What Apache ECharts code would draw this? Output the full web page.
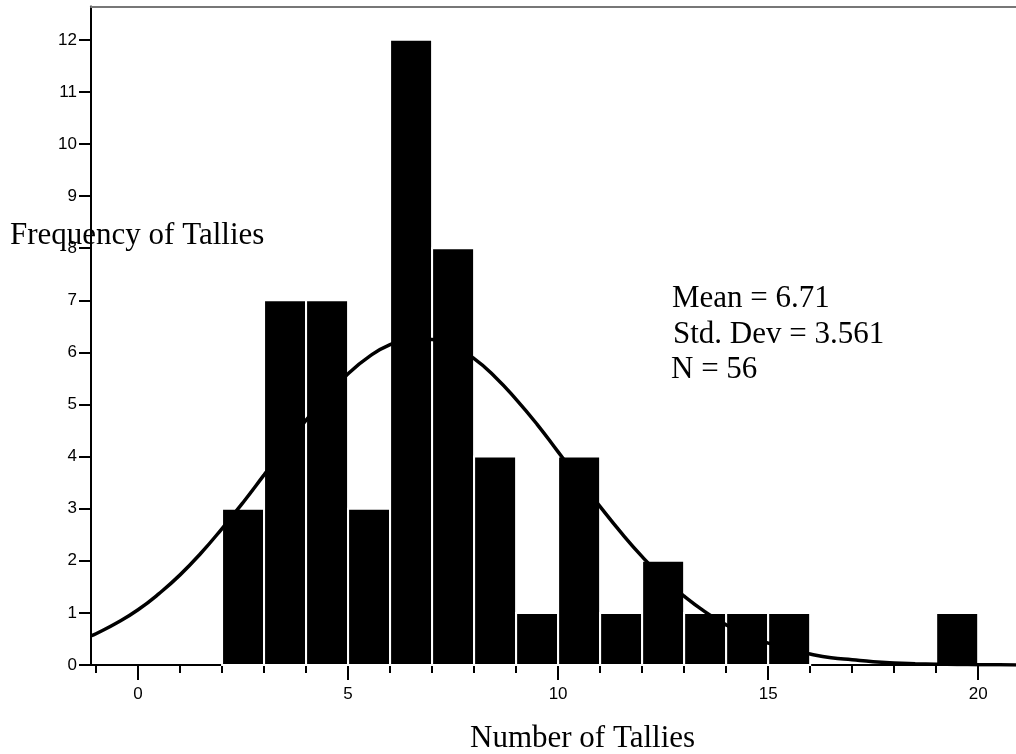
<!DOCTYPE html>
<html>
<head>
<meta charset="utf-8">
<script src="https://cdn.jsdelivr.net/npm/echarts@6/dist/echarts.min.js"></script>
<style>
  html, body { margin: 0; padding: 0; background: #fff; }
  #chart { width: 1016px; height: 754px; }
</style>
</head>
<body>
<div id="chart"></div>
<script>
// histogram bins: [from, to, count]
const binStart = [2, 3, 4, 5, 6, 7, 8, 9, 10, 11, 12, 13, 14, 15, 19]
const binEnd = [3, 4, 5, 6, 7, 8, 9, 10, 11, 12, 13, 14, 15, 16, 20]
const binCount = [3, 7, 7, 3, 12, 8, 4, 1, 4, 1, 2, 1, 1, 1, 1]

// normal curve
const curveX = [-1.12, -1, -0.5, 0, 0.5, 1, 1.5, 2, 2.5, 3, 3.5, 4, 4.5, 5, 5.5, 6, 6.5, 7, 7.5, 8, 8.5, 9, 9.5,
  10, 10.5, 11, 11.5, 12, 12.5, 13, 13.5, 14, 14.5, 15, 15.5, 16, 16.5, 17, 17.5, 18, 18.5, 19, 19.5, 20, 20.5, 20.9]
const curveY = [0.56, 0.6, 0.81, 1.06, 1.37, 1.73, 2.15, 2.62, 3.12, 3.65, 4.18, 4.7, 5.17, 5.59, 5.92, 6.15, 6.26, 6.25, 6.12, 5.88, 5.53, 5.1, 4.62,
  4.09, 3.56, 3.04, 2.54, 2.08, 1.67, 1.32, 1.02, 0.77, 0.57, 0.42, 0.3, 0.21, 0.14, 0.1, 0.063, 0.04, 0.026, 0.016, 0.01, 0.006, 0.004, 0.002]

const xMinorTicks = [-1, 0, 1, 2, 3, 4, 5, 6, 7, 8, 9, 10, 11, 12, 13, 14, 15, 16, 17, 18, 19, 20]
const xMajorTicks = [0, 5, 10, 15, 20]
const yTicks = [0, 1, 2, 3, 4, 5, 6, 7, 8, 9, 10, 11, 12]

const statLines = ['Mean = 6.71', 'Std. Dev = 3.561', 'N = 56']

const xMin = -1.12
const xMax = 20.9
const yMax = 12.64

const serif = '31px "Liberation Serif", "Times New Roman", serif'
const sans = '"Liberation Sans", Arial, sans-serif'

const chart = echarts.init(document.getElementById('chart'))

const bars = binStart.map((s, i) => [s, binEnd[i], binCount[i]])
const curve = curveX.map((x, i) => [x, curveY[i]])

chart.setOption({
  animation: false,
  backgroundColor: '#fff',
  grid: { left: 91, right: 0, top: 6.5, bottom: 89 },
  xAxis: [
    { // minor ticks + axis line
      type: 'value', min: xMin, max: xMax, position: 'bottom',
      axisLine: { show: true, onZero: false, lineStyle: { color: '#000', width: 2 } },
      axisTick: { show: true, length: 8, lineStyle: { color: '#000', width: 2 }, customValues: xMinorTicks },
      axisLabel: { show: false },
      splitLine: { show: false }
    },
    { // major ticks + labels
      type: 'value', min: xMin, max: xMax, position: 'bottom',
      axisLine: { show: false, onZero: false },
      axisTick: { show: true, length: 15, lineStyle: { color: '#000', width: 2 }, customValues: xMajorTicks },
      axisLabel: { show: true, customValues: xMajorTicks, margin: 21, color: '#000', fontSize: 17, fontFamily: sans },
      splitLine: { show: false }
    },
    { // top frame line
      type: 'value', min: xMin, max: xMax, position: 'top',
      axisLine: { show: true, onZero: false, lineStyle: { color: '#777', width: 2 } },
      axisTick: { show: false }, axisLabel: { show: false }, splitLine: { show: false }
    }
  ],
  yAxis: {
    type: 'value', min: 0, max: yMax,
    axisLine: { show: true, onZero: false, lineStyle: { color: '#000', width: 2 } },
    axisTick: { show: true, length: 12, lineStyle: { color: '#000', width: 2 }, customValues: yTicks },
    axisLabel: { customValues: yTicks, margin: 14, color: '#000', fontSize: 17, fontFamily: sans },
    splitLine: { show: false }
  },
  series: [
    {
      type: 'custom',
      xAxisIndex: 0,
      data: bars,
      encode: { x: [0, 1], y: 2 },
      renderItem: function (params, api) {
        const p0 = api.coord([api.value(0), api.value(2)])
        const p1 = api.coord([api.value(1), 0])
        return {
          type: 'rect',
          shape: { x: p0[0], y: p0[1], width: p1[0] - p0[0], height: p1[1] - p0[1] },
          style: { fill: '#000', stroke: '#fff', lineWidth: 2 }
        }
      },
      z: 2
    },
    {
      type: 'line',
      xAxisIndex: 0,
      data: curve,
      smooth: true,
      showSymbol: false,
      lineStyle: { color: '#000', width: 3.5 },
      z: 3
    }
  ],
  graphic: [
    { type: 'text', z: 10, style: { text: 'Frequency of Tallies', x: 10, y: 220, font: serif, fill: '#000' } },
    { type: 'text', z: 10, style: { text: 'Number of Tallies', x: 470, y: 723, font: serif, fill: '#000' } },
    { type: 'text', z: 10, style: { text: statLines[0], x: 672, y: 283, font: serif, fill: '#000' } },
    { type: 'text', z: 10, style: { text: statLines[1], x: 673, y: 319, font: serif, fill: '#000' } },
    { type: 'text', z: 10, style: { text: statLines[2], x: 671, y: 354, font: serif, fill: '#000' } }
  ]
})
</script>
</body>
</html>
